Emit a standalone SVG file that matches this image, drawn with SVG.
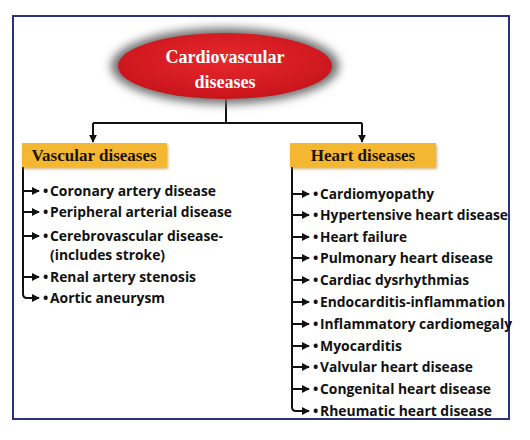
<svg xmlns="http://www.w3.org/2000/svg" width="530" height="440" viewBox="0 0 530 440">
<style>
.frame{fill:#ffffff;stroke:#2b2f86;stroke-width:2}
.cat{fill:#f4b731}
.cattxt{font-family:"Liberation Serif",serif;font-weight:bold;font-size:17px;fill:#1c1208;text-anchor:middle}
.roottxt{font-family:"Liberation Serif",serif;font-weight:bold;font-size:18px;fill:#ffffff;text-anchor:middle}
.item{font-family:"Open Sans","Liberation Sans",sans-serif;font-weight:bold;font-size:14px;fill:#111111}
.ln{fill:none;stroke:#111111;stroke-width:2}
</style>
<defs>
<marker id="ah" viewBox="0 0 10 10" refX="9" refY="5" markerWidth="4" markerHeight="4" orient="auto" markerUnits="strokeWidth">
<path d="M0,0 L10,5 L0,10 z" fill="#111111"/>
</marker>
<filter id="glow" x="-20%" y="-40%" width="140%" height="180%">
<feGaussianBlur stdDeviation="5"/>
</filter>
<filter id="sh" x="-10%" y="-30%" width="120%" height="160%">
<feGaussianBlur stdDeviation="1.5"/>
</filter>
<radialGradient id="red" cx="50%" cy="40%" r="60%">
<stop offset="0" stop-color="#e8282c"/>
<stop offset="1" stop-color="#c8141c"/>
</radialGradient>
</defs>
<rect width="530" height="440" fill="#ffffff"/>
<rect class="frame" x="13" y="16" width="496" height="403"/>

<g id="connectors">
<path class="ln" d="M226,99 V123 M93,123 H362"/>
<path class="ln" d="M93,123 V142" marker-end="url(#ah)"/>
<path class="ln" d="M362,123 V142" marker-end="url(#ah)"/>
<path class="ln" d="M23,167 V294 Q23,298 27,298"/>
<path class="ln" d="M23,191 H39" marker-end="url(#ah)"/>
<path class="ln" d="M23,212 H39" marker-end="url(#ah)"/>
<path class="ln" d="M23,236 H39" marker-end="url(#ah)"/>
<path class="ln" d="M23,277 H39" marker-end="url(#ah)"/>
<path class="ln" d="M26,298 H39" marker-end="url(#ah)"/>
<path class="ln" d="M292,167 V407 Q292,411 296,411"/>
<path class="ln" d="M292,194 H309" marker-end="url(#ah)"/>
<path class="ln" d="M292,215 H309" marker-end="url(#ah)"/>
<path class="ln" d="M292,237 H309" marker-end="url(#ah)"/>
<path class="ln" d="M292,258 H309" marker-end="url(#ah)"/>
<path class="ln" d="M292,280 H309" marker-end="url(#ah)"/>
<path class="ln" d="M292,302 H309" marker-end="url(#ah)"/>
<path class="ln" d="M292,324 H309" marker-end="url(#ah)"/>
<path class="ln" d="M292,346 H309" marker-end="url(#ah)"/>
<path class="ln" d="M292,367 H309" marker-end="url(#ah)"/>
<path class="ln" d="M292,389 H309" marker-end="url(#ah)"/>
<path class="ln" d="M295,411 H309" marker-end="url(#ah)"/>
</g>

<g id="root">
<ellipse cx="225" cy="66" rx="114" ry="38" fill="#707070" filter="url(#glow)"/>
<ellipse cx="225" cy="66" rx="107" ry="33" fill="url(#red)"/>
<text class="roottxt" x="225" y="63">Cardiovascular</text>
<text class="roottxt" x="225" y="88">diseases</text>
</g>

<g id="vascular">
<rect x="23" y="145" width="145" height="24" fill="#b07a10" opacity="0.6" filter="url(#sh)"/>
<rect class="cat" x="22" y="143" width="145" height="24"/>
<text class="cattxt" x="94" y="161">Vascular diseases</text>
</g>

<g id="heart">
<rect x="291" y="145" width="146" height="24" fill="#b07a10" opacity="0.6" filter="url(#sh)"/>
<rect class="cat" x="290" y="143" width="146" height="24"/>
<text class="cattxt" x="363" y="161">Heart diseases</text>
</g>

<g id="vascular-items">
<text class="item" x="43" y="196">•</text><text class="item" x="50" y="196" textLength="166" lengthAdjust="spacingAndGlyphs">Coronary artery disease</text>
<text class="item" x="43" y="217">•</text><text class="item" x="50" y="217" textLength="182" lengthAdjust="spacingAndGlyphs">Peripheral arterial disease</text>
<text class="item" x="43" y="241">•</text><text class="item" x="50" y="241" textLength="173" lengthAdjust="spacingAndGlyphs">Cerebrovascular disease-</text>
<text class="item" x="50" y="260" textLength="115" lengthAdjust="spacingAndGlyphs">(includes stroke)</text>
<text class="item" x="43" y="282">•</text><text class="item" x="50" y="282" textLength="146" lengthAdjust="spacingAndGlyphs">Renal artery stenosis</text>
<text class="item" x="43" y="303">•</text><text class="item" x="50" y="303" textLength="115" lengthAdjust="spacingAndGlyphs">Aortic aneurysm</text>
</g>

<g id="heart-items">
<text class="item" x="313" y="199">•</text><text class="item" x="320" y="199" textLength="114" lengthAdjust="spacingAndGlyphs">Cardiomyopathy</text>
<text class="item" x="313" y="220">•</text><text class="item" x="320" y="220" textLength="188" lengthAdjust="spacingAndGlyphs">Hypertensive heart disease</text>
<text class="item" x="313" y="242">•</text><text class="item" x="320" y="242" textLength="87" lengthAdjust="spacingAndGlyphs">Heart failure</text>
<text class="item" x="313" y="263">•</text><text class="item" x="320" y="263" textLength="173" lengthAdjust="spacingAndGlyphs">Pulmonary heart disease</text>
<text class="item" x="313" y="285">•</text><text class="item" x="320" y="285" textLength="149" lengthAdjust="spacingAndGlyphs">Cardiac dysrhythmias</text>
<text class="item" x="313" y="307">•</text><text class="item" x="320" y="307" textLength="185" lengthAdjust="spacingAndGlyphs">Endocarditis-inflammation</text>
<text class="item" x="313" y="329">•</text><text class="item" x="320" y="329" textLength="192" lengthAdjust="spacingAndGlyphs">Inflammatory cardiomegaly</text>
<text class="item" x="313" y="351">•</text><text class="item" x="320" y="351" textLength="82" lengthAdjust="spacingAndGlyphs">Myocarditis</text>
<text class="item" x="313" y="372">•</text><text class="item" x="320" y="372" textLength="153" lengthAdjust="spacingAndGlyphs">Valvular heart disease</text>
<text class="item" x="313" y="394">•</text><text class="item" x="320" y="394" textLength="171" lengthAdjust="spacingAndGlyphs">Congenital heart disease</text>
<text class="item" x="313" y="416">•</text><text class="item" x="320" y="416" textLength="172" lengthAdjust="spacingAndGlyphs">Rheumatic heart disease</text>
</g>
</svg>
